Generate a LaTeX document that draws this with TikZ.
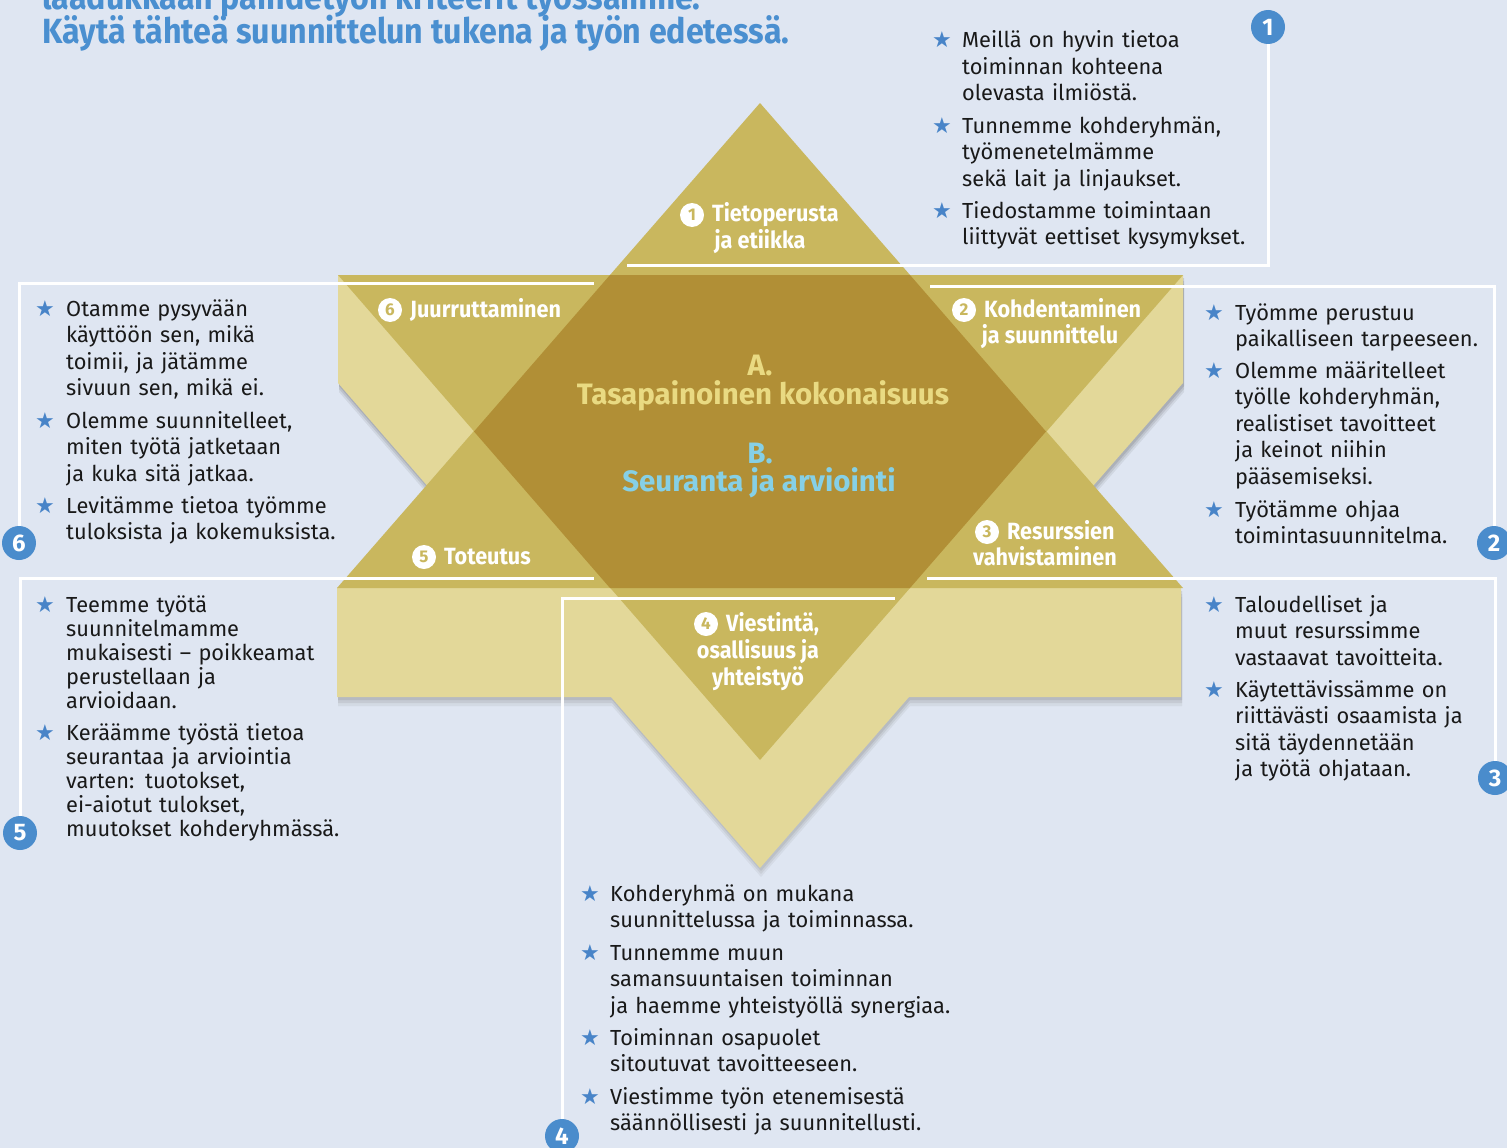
\documentclass[tikz,border=0pt]{standalone}
\usepackage{fontspec}
\setmainfont{Fira Sans}
\newfontfamily\condf[FakeStretch=0.92]{Fira Sans}
\newfontfamily\symf{DejaVu Sans}
\definecolor{bg}{RGB}{223,230,242}
\definecolor{pale}{RGB}{227,216,153}
\definecolor{mid}{RGB}{201,183,94}
\definecolor{dark}{RGB}{177,143,54}
\definecolor{tblue}{RGB}{74,143,208}
\definecolor{sblue}{RGB}{72,132,200}
\definecolor{cblue}{RGB}{74,140,204}
\definecolor{atext}{RGB}{233,218,130}
\definecolor{btext}{RGB}{134,208,230}
\definecolor{shade}{RGB}{60,80,120}
\newcommand\palepath{(338,275) -- (1183,275) -- (1183,383) -- (1004,588) -- (1181,588) -- (1181,697) -- (909,697) -- (760,868) -- (611,697) -- (337,697) -- (337,588) -- (516,588) -- (338,383) -- cycle}
\tikzset{
  bodytxt/.style={anchor=base west, inner sep=0pt, text width=600pt, align=left,
    font=\fontsize{21.8}{26.5}\selectfont, text=black!90},
  bodytight/.style={bodytxt, font=\fontsize{21.8}{24}\selectfont},
  starmk/.style={anchor=base, inner sep=0pt, font=\symf\fontsize{22}{22}\selectfont, text=sblue},
  ttl/.style={anchor=base west, inner sep=0pt, font=\condf\bfseries\fontsize{35}{35}\selectfont, text=tblue},
  lbl/.style={anchor=base west, inner sep=0pt, font=\condf\bfseries\fontsize{23.5}{23.5}\selectfont, text=white},
  lblc/.style={lbl, anchor=base},
  wnum/.style={circle, fill=white, minimum size=24pt, inner sep=0pt, text=mid,
    font=\bfseries\fontsize{17}{17}\selectfont},
  numc/.style={circle, fill=cblue, minimum size=34pt, inner sep=0pt, text=white,
    font=\bfseries\fontsize{24}{24}\selectfont},
  ctr/.style={anchor=base, inner sep=0pt, font=\bfseries\fontsize{29.5}{29.5}\selectfont},
  wline/.style={draw=white, line width=3pt}
}
\begin{document}
\begin{tikzpicture}[x=1pt,y=-1pt]
\useasboundingbox (0,0) rectangle (1507,1148);
\fill[bg] (0,0) rectangle (1507,1148);

% title
\node[ttl] (t0) at (42,10) {laadukkaan päihdetyön kriteerit työssämme.};
\node[ttl] (t1) at (42,44) {Käytä tähteä suunnittelun tukena ja työn edetessä.};

% shadow
\foreach \d/\o in {9/0.05,6/0.07,3/0.09} {
  \fill[shade, opacity=\o, xshift=1pt, yshift=-\d pt] \palepath;
}
% star shapes
\fill[pale] \palepath;
\fill[mid] (338,275) -- (1183,275) -- (760,760) -- cycle;
\fill[mid] (760,103) -- (1183,588) -- (337,588) -- cycle;
\fill[dark] (610,275) -- (910,275) -- (1046,431.5) -- (910,588) -- (610,588) -- (474,431.5) -- cycle;

% center texts
\node[ctr, text=atext] (ca) at (760,375) {A.};
\node[ctr, text=atext] (cb) at (763,404) {Tasapainoinen kokonaisuus};
\node[ctr, text=btext] (cc) at (760,463) {B.};
\node[ctr, text=btext] (cd) at (759,491) {Seuranta ja arviointi};

% star labels
\node[wnum] (w1) at (692,215) {1};
\node[lbl] (l1a) at (712,221.5) {Tietoperusta};
\node[lblc] (l1b) at (760,248) {ja etiikka};
\node[wnum] (w6) at (390,310) {6};
\node[lbl] (l6a) at (410,317) {Juurruttaminen};
\node[wnum] (w2) at (964,310) {2};
\node[lbl] (l2a) at (984,317) {Kohdentaminen};
\node[lblc] (l2b) at (1050,343) {ja suunnittelu};
\node[wnum] (w3) at (987,532) {3};
\node[lbl] (l3a) at (1007,539) {Resurssien};
\node[lblc] (l3b) at (1045,565) {vahvistaminen};
\node[wnum] (w5) at (424,557) {5};
\node[lbl] (l5a) at (444,564) {Toteutus};
\node[wnum] (w4) at (706,624) {4};
\node[lbl] (l4a) at (726,631) {Viestintä,};
\node[lblc] (l4b) at (758,658) {osallisuus ja};
\node[lblc] (l4c) at (758,685) {yhteistyö};

% numbered circles and connectors
\node[numc] (c1) at (1268,27) {1};
\node[numc] (c2) at (1494,543) {2};
\node[numc] (c3) at (1495,778) {3};
\node[numc] (c4) at (562,1136) {4};
\node[numc] (c5) at (20,833) {5};
\node[numc] (c6) at (19,543) {6};
\coordinate (e1) at (627,265);
\coordinate (e2) at (930,286);
\coordinate (e3) at (927,578);
\coordinate (e4) at (895,598);
\coordinate (e5) at (594,578);
\coordinate (e6) at (594,283);
\draw[wline] (c1) |- (e1);
\draw[wline] (c2) |- (e2);
\draw[wline] (c3) |- (e3);
\draw[wline] (c4) |- (e4);
\draw[wline] (c5) |- (e5);
\draw[wline] (c6) |- (e6);

% block 1
\node[starmk] (s11) at (942,48) {★};
\node[bodytxt] (p11) at (962,48) {Meillä on hyvin tietoa\\toiminnan kohteena\\olevasta ilmiöstä.};
\node[starmk] (s12) at (942,133) {★};
\node[bodytxt] (p12) at (962,133) {Tunnemme kohderyhmän,\\työmenetelmämme\\sekä lait ja linjaukset.};
\node[starmk] (s13) at (942,218) {★};
\node[bodytxt] (p13) at (962,218) {Tiedostamme toimintaan\\liittyvät eettiset kysymykset.};

% block 6
\node[starmk] (s61) at (45,316) {★};
\node[bodytxt] (p61) at (66,316) {Otamme pysyvään\\käyttöön sen, mikä\\toimii, ja jätämme\\sivuun sen, mikä ei.};
\node[starmk] (s62) at (45,428) {★};
\node[bodytxt] (p62) at (66,428) {Olemme suunnitelleet,\\miten työtä jatketaan\\ja kuka sitä jatkaa.};
\node[starmk] (s63) at (45,513) {★};
\node[bodytxt] (p63) at (66,513) {Levitämme tietoa työmme\\tuloksista ja kokemuksista.};

% block 2
\node[starmk] (s21) at (1214,320) {★};
\node[bodytxt] (p21) at (1235,320) {Työmme perustuu\\paikalliseen tarpeeseen.};
\node[starmk] (s22) at (1214,378) {★};
\node[bodytxt] (p22) at (1235,378) {Olemme määritelleet\\työlle kohderyhmän,\\realistiset tavoitteet\\ja keinot niihin\\pääsemiseksi.};
\node[starmk] (s23) at (1214,517) {★};
\node[bodytxt] (p23) at (1235,517) {Työtämme ohjaa\\toimintasuunnitelma.};

% block 5
\node[starmk] (s51) at (45,612) {★};
\node[bodytight] (p51) at (66,612) {Teemme työtä\\suunnitelmamme\\mukaisesti – poikkeamat\\perustellaan ja\\arvioidaan.};
\node[starmk] (s52) at (45,740) {★};
\node[bodytight] (p52) at (66,740) {Keräämme työstä tietoa\\seurantaa ja arviointia\\varten: tuotokset,\\ei-aiotut tulokset,\\muutokset kohderyhmässä.};

% block 3
\node[starmk] (s31) at (1214,612) {★};
\node[bodytxt] (p31) at (1235,612) {Taloudelliset ja\\muut resurssimme\\vastaavat tavoitteita.};
\node[starmk] (s32) at (1214,697) {★};
\node[bodytxt] (p32) at (1235,697) {Käytettävissämme on\\riittävästi osaamista ja\\sitä täydennetään\\ja työtä ohjataan.};

% block 4
\node[starmk] (s41) at (590,901) {★};
\node[bodytxt] (p41) at (610,901) {Kohderyhmä on mukana\\suunnittelussa ja toiminnassa.};
\node[starmk] (s42) at (590,960) {★};
\node[bodytxt] (p42) at (610,960) {Tunnemme muun\\samansuuntaisen toiminnan\\ja haemme yhteistyöllä synergiaa.};
\node[starmk] (s43) at (590,1045) {★};
\node[bodytxt] (p43) at (610,1045) {Toiminnan osapuolet\\sitoutuvat tavoitteeseen.};
\node[starmk] (s44) at (590,1104) {★};
\node[bodytxt] (p44) at (610,1104) {Viestimme työn etenemisestä\\säännöllisesti ja suunnitellusti.};
\end{tikzpicture}
\end{document}
